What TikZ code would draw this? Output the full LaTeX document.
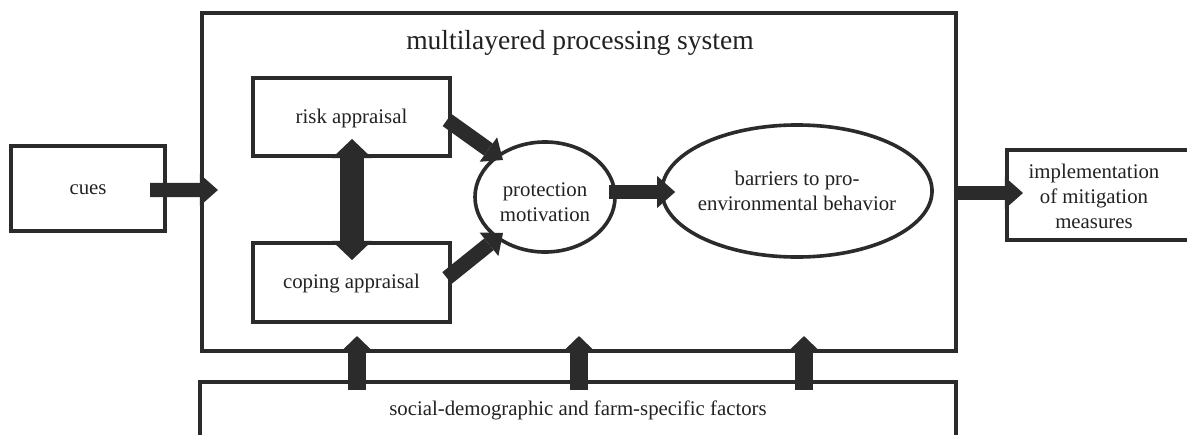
\documentclass[tikz,border=0pt]{standalone}
\usepackage{fontspec}
\setmainfont{Liberation Serif}
\usetikzlibrary{arrows.meta,calc,shapes.geometric}
\definecolor{dk}{HTML}{2B2B2B}
\definecolor{tx}{HTML}{222222}
\tikzset{
  box/.style={draw=dk, line width=0.1cm, rectangle, inner sep=0pt},
  oval/.style={draw=dk, line width=0.09cm, ellipse, inner sep=0pt},
  lbl/.style={text=tx, align=center, inner sep=0pt, font=\fontsize{14.8pt}{17.8pt}\selectfont},
  fatA/.style={draw=dk, line width=0.36cm, -{Triangle[length=0.45cm,width=0.8cm,line width=0pt]}},
  fatB/.style={draw=dk, line width=0.375cm, -{Triangle[length=0.45cm,width=0.75cm,line width=0pt]}},
  fatD/.style={draw=dk, line width=0.6cm, {Triangle[length=0.475cm,width=1.0cm,line width=0pt]}-{Triangle[length=0.475cm,width=1.0cm,line width=0pt]}},
  fatU/.style={draw=dk, line width=0.45cm, -{Triangle[length=0.35cm,width=0.725cm,line width=0pt]}},
}
\begin{document}
\begin{tikzpicture}[x=0.025cm, y=-0.025cm]
\useasboundingbox (0,0) rectangle (1187,434);
\clip (0,0) rectangle (1187,434);
\fill[white] (0,0) rectangle (1187,434);
% boxes
\node[box, minimum width=3.85cm, minimum height=2.125cm] (cues) at (88,188.5) {};
\node[lbl] (cuestext) at (88,190) {cues};
\node[box, minimum width=18.85cm, minimum height=8.45cm] (main) at (579,182) {};
\node[text=tx, inner sep=0pt, font=\fontsize{19.6pt}{23pt}\selectfont] (title) at (580,43) {multilayered processing system};
\node[box, minimum width=4.925cm, minimum height=1.95cm] (risk) at (351.5,117) {};
\node[lbl] (risktext) at (351.5,118) {risk appraisal};
\node[box, minimum width=4.925cm, minimum height=1.975cm] (coping) at (351.5,282.5) {};
\node[lbl] (copingtext) at (351.5,284) {coping appraisal};
\node[oval, minimum width=3.5cm, minimum height=2.75cm] (prot) at (545,197) {};
\node[lbl] (prottext) at (545,202) {protection\\motivation};
\node[oval, minimum width=6.75cm, minimum height=3.3cm] (barriers) at (797,191) {};
\node[lbl] (barrierstext) at (797,191) {barriers to pro-\\environmental behavior};
\node[box, minimum width=4.7cm, minimum height=2.25cm] (impl) at (1101,195) {};
\node[lbl] (impltext) at (1094,196) {implementation\\of mitigation\\measures};
\node[box, minimum width=18.9cm, minimum height=1.7cm] (bottom) at (578,416) {};
\node[lbl] (bottomtext) at (578,410) {social-demographic and farm-specific factors};
% arrows
\draw[fatA] ($(cues.east)+(-17,1.5)$) -- ($(main.west)+(18,8)$);
\draw[fatB] ($(risk.east)+(-5,3)$) -- ($(prot.center)+(-42,-37)$);
\draw[fatB] ($(coping.east)+(-5,-4.5)$) -- ($(prot.center)+(-42,36)$);
\draw[fatA] ($(prot.east)+(-8,-5)$) -- ($(barriers.west)+(15,1)$);
\draw[fatA] ($(main.east)+(-4,11)$) -- ($(impl.west)+(18,-2)$);
\draw[fatD] ($(risk.south)+(0.5,-19)$) -- ($(coping.north)+(0.5,19)$);
\draw[fatU] ($(bottom.north)+(-221,10)$) -- ($(main.south)+(-222,-17)$);
\draw[fatU] ($(bottom.north)+(1,10)$) -- ($(main.south)+(0,-17)$);
\draw[fatU] ($(bottom.north)+(226,10)$) -- ($(main.south)+(225,-17)$);
\end{tikzpicture}
\end{document}
